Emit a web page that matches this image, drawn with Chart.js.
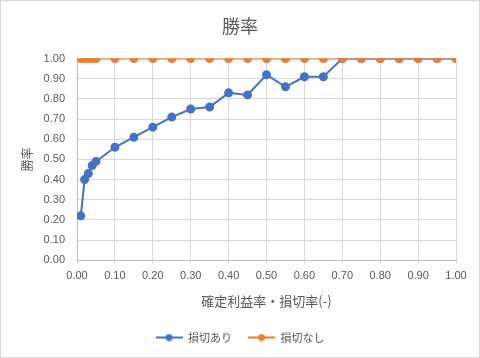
<!DOCTYPE html>
<html>
<head>
<meta charset="utf-8">
<script src="https://cdn.jsdelivr.net/npm/chart.js@4/dist/chart.umd.min.js"></script>
<style>
html,body{margin:0;padding:0;background:#fff;}
#wrap{width:480px;height:358px;position:relative;}
</style>
</head>
<body>
<div id="wrap"><canvas id="c" width="480" height="358"></canvas></div>
<script>
const xValues = [0.01,0.02,0.03,0.04,0.05,0.10,0.15,0.20,0.25,0.30,0.35,0.40,0.45,0.50,0.55,0.60,0.65,0.70,0.75,0.80,0.85,0.90,0.95,1.00];
const withStopLoss = [0.22,0.40,0.43,0.47,0.49,0.56,0.61,0.66,0.71,0.75,0.76,0.83,0.82,0.92,0.86,0.91,0.91,1.00,1.00,1.00,1.00,1.00,1.00,1.00];
const withoutStopLoss = [1.00,1.00,1.00,1.00,1.00,1.00,1.00,1.00,1.00,1.00,1.00,1.00,1.00,1.00,1.00,1.00,1.00,1.00,1.00,1.00,1.00,1.00,1.00,1.00];
const seriesNames = ['損切あり','損切なし'];
const titleText = '勝率';
const xTitle = '確定利益率・損切率(-)';
const yTitle = '勝率';

const BLUE = '#4472C4', ORANGE = '#ED7D31', TXT = '#595959', GRID = '#D9D9D9';
const JP = '"Noto Sans CJK JP", "Noto Sans", sans-serif';
const NUM = '"Liberation Sans", Arial, sans-serif';

function legendIcon(color){
  const cv = document.createElement('canvas');
  cv.width = 27; cv.height = 8;
  const g = cv.getContext('2d');
  g.strokeStyle = color; g.lineWidth = 2;
  g.beginPath(); g.moveTo(0,4); g.lineTo(27,4); g.stroke();
  g.fillStyle = color; g.beginPath(); g.arc(13.5,4,3.5,0,Math.PI*2); g.fill();
  return cv;
}
const icons = [legendIcon(BLUE), legendIcon(ORANGE)];

const toPts = ys => xValues.map((x,i)=>({x:x,y:ys[i]}));

const bgBorder = {
  id:'bgBorder',
  afterLayout(chart){
    const lg = chart.legend;
    if (lg) { lg.left += 12; lg.right += 12; if (lg.adjustHitBoxes) lg.adjustHitBoxes(); }
    const tb = chart.titleBlock;
    if (tb) { tb.left += 12; tb.right += 12; }
  },
  beforeDraw(chart){
    const c = chart.ctx; c.save(); c.fillStyle='#fff'; c.fillRect(0,0,chart.width,chart.height); c.restore();
  },
  afterDraw(chart){
    const c = chart.ctx; c.save(); c.strokeStyle='#D9D9D9'; c.lineWidth=1;
    c.strokeRect(0.5,0.5,chart.width-1,chart.height-1); c.restore();
  }
};

new Chart(document.getElementById('c'), {
  type:'scatter',
  data:{
    datasets:[
      {label:seriesNames[0], data:toPts(withStopLoss), showLine:true, borderColor:BLUE, backgroundColor:BLUE,
       borderWidth:2, pointRadius:3.5, pointHoverRadius:3.5, order:2},
      {label:seriesNames[1], data:toPts(withoutStopLoss), showLine:true, borderColor:ORANGE, backgroundColor:ORANGE,
       borderWidth:2, pointRadius:3.5, pointHoverRadius:3.5, order:1}
    ]
  },
  options:{
    responsive:false, animation:false, devicePixelRatio:1,
    layout:{padding:{left:0,right:24,top:0,bottom:5}},
    plugins:{
      title:{display:true, text:titleText, color:TXT, font:{family:JP,size:18,weight:'normal'}, padding:{top:15,bottom:22}},
      legend:{position:'bottom', labels:{
        color:TXT, font:{family:JP,size:11}, usePointStyle:true, pointStyleWidth:27, boxHeight:8, padding:16,
        generateLabels(chart){
          return chart.data.datasets.map((d,i)=>({text:d.label, pointStyle:icons[i], fillStyle:d.borderColor,
            strokeStyle:d.borderColor, lineWidth:0, fontColor:TXT, hidden:false, datasetIndex:i}));
        }
      }},
      tooltip:{enabled:false}
    },
    scales:{
      x:{type:'linear', min:0, max:1,
        ticks:{stepSize:0.1, color:TXT, font:{family:NUM,size:11}, padding:6, callback:v=>Number(v).toFixed(2)},
        grid:{color:GRID, drawTicks:true, tickLength:3},
        border:{color:'#BFBFBF'},
        title:{display:true, text:xTitle, color:TXT, font:{family:JP,size:13}, padding:{top:5,bottom:7}}
      },
      y:{type:'linear', min:0, max:1,
        ticks:{stepSize:0.1, color:TXT, font:{family:NUM,size:11}, padding:12, callback:v=>Number(v).toFixed(2)},
        grid:{color:GRID, drawTicks:false},
        border:{color:'#BFBFBF'},
        title:{display:true, text:yTitle, color:TXT, font:{family:JP,size:12}, padding:{top:20,bottom:4}},
        afterFit(s){ s.width = 77; }
      }
    }
  },
  plugins:[bgBorder]
});
</script>
</body>
</html>
